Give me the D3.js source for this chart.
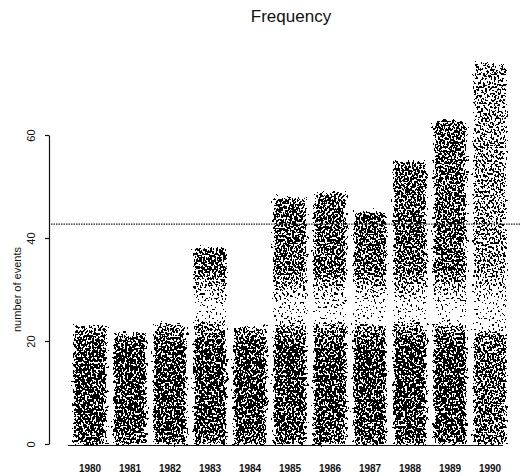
<!DOCTYPE html>
<html>
<head>
<meta charset="utf-8">
<script src="https://cdn.jsdelivr.net/npm/d3@7"></script>
<style>
  body { margin: 0; background: #fff; }
  svg { display: block; }
  text { font-family: "Liberation Sans", Arial, Helvetica, sans-serif; fill: #111; }
</style>
</head>
<body>
<svg id="chart" width="521" height="476"></svg>
<script>
let width = 521;
let height = 476;

let years = ["1980", "1981", "1982", "1983", "1984", "1985", "1986", "1987", "1988", "1989", "1990"];
// lower (dense) block and full height of each bar
let baseCounts = [23, 21.5, 23.3, 23.5, 22.7, 23.5, 23.5, 23.1, 23.5, 23.1, 22];
let totalCounts = [23, 21.5, 23.3, 38, 22.7, 47.8, 48.7, 45, 54.8, 62.9, 74];
let yTicks = [0, 20, 40, 60];
let refLevel = 42.7;

let svg = d3.select("#chart");

let x = d3.scaleBand().domain(years).range([70, 510]).paddingInner(0.2).paddingOuter(0.1);
let y = d3.scaleLinear().domain([0, 60]).range([444, 135]);

let defs = svg.append("defs");

// opacity ramps in data space, turned into stipple density by the filter
function ramp(id, stops) {
    let g = defs.append("linearGradient")
        .attr("id", id)
        .attr("gradientUnits", "userSpaceOnUse")
        .attr("x1", 0).attr("x2", 0)
        .attr("y1", y(0)).attr("y2", y(75));
    stops.forEach(s => {
        g.append("stop")
            .attr("offset", s[0] / 75)
            .attr("stop-color", "#000")
            .attr("stop-opacity", s[1]);
    });
}
ramp("lowRamp", [[0, 0.58], [3, 0.68], [18, 0.7], [21, 0.6], [23.5, 0.4]]);
ramp("highRamp", [[22, 0.05], [27, 0.1], [31, 0.42], [34, 0.62], [75, 0.58]]);

let f = defs.append("filter")
    .attr("id", "stipple")
    .attr("filterUnits", "userSpaceOnUse")
    .attr("x", 0).attr("y", 0).attr("width", width).attr("height", height)
    .attr("color-interpolation-filters", "sRGB");
// ragged edges, like a scanned print
f.append("feTurbulence")
    .attr("type", "fractalNoise")
    .attr("baseFrequency", 0.3)
    .attr("numOctaves", 2)
    .attr("seed", 3)
    .attr("result", "warp");
f.append("feDisplacementMap")
    .attr("in", "SourceGraphic").attr("in2", "warp")
    .attr("scale", 11)
    .attr("xChannelSelector", "R").attr("yChannelSelector", "G")
    .attr("result", "src");
f.append("feTurbulence")
    .attr("type", "fractalNoise")
    .attr("baseFrequency", "0.55 0.45")
    .attr("numOctaves", 1)
    .attr("seed", 7)
    .attr("result", "noise");
f.append("feColorMatrix")
    .attr("in", "noise")
    .attr("type", "matrix")
    .attr("values", "0 0 0 0 0  0 0 0 0 0  0 0 0 0 0  3 0 0 0 -1")
    .attr("result", "n");
f.append("feComposite")
    .attr("in", "src").attr("in2", "n")
    .attr("operator", "arithmetic")
    .attr("k1", 0).attr("k2", 1).attr("k3", -1).attr("k4", 0.49)
    .attr("result", "diff");
let ct = f.append("feComponentTransfer").attr("in", "diff");
ct.append("feFuncR").attr("type", "linear").attr("slope", 0).attr("intercept", 0);
ct.append("feFuncG").attr("type", "linear").attr("slope", 0).attr("intercept", 0);
ct.append("feFuncB").attr("type", "linear").attr("slope", 0).attr("intercept", 0);
ct.append("feFuncA").attr("type", "discrete").attr("tableValues", "0 1");

let data = years.map((yr, i) => ({ year: yr, base: baseCounts[i], total: totalCounts[i] }));

// the right edge of the scan came out paler
let fade = d => d.year === "1990" ? 0.7 : 1;

let bars = svg.append("g").attr("filter", "url(#stipple)");

bars.selectAll(".low").data(data).enter()
    .append("rect")
    .attr("class", "low")
    .attr("x", d => x(d.year))
    .attr("width", x.bandwidth())
    .attr("y", d => y(d.base))
    .attr("height", d => y(0) - y(d.base))
    .attr("fill", "url(#lowRamp)")
    .attr("fill-opacity", d => Math.min(1, fade(d) + 0.15));

bars.selectAll(".high").data(data.filter(d => d.total > d.base)).enter()
    .append("rect")
    .attr("class", "high")
    .attr("x", d => x(d.year))
    .attr("width", x.bandwidth())
    .attr("y", d => y(d.total))
    .attr("height", d => y(d.base) - y(d.total))
    .attr("fill", "url(#highRamp)")
    .attr("fill-opacity", fade);

// baseline under the bars
svg.append("line")
    .attr("x1", 68).attr("x2", 503)
    .attr("y1", y(0) + 1.5).attr("y2", y(0) + 1.5)
    .attr("stroke", "#111").attr("stroke-width", 1.2);

// reference level
svg.append("line")
    .attr("x1", 51).attr("x2", width)
    .attr("y1", y(refLevel)).attr("y2", y(refLevel))
    .attr("stroke", "#222").attr("stroke-width", 1.2)
    .attr("stroke-dasharray", "1.5,1");

// y axis
let yAxis = svg.append("g")
    .attr("transform", "translate(49,0)")
    .call(d3.axisLeft(y).tickValues(yTicks).tickSize(4).tickSizeOuter(0));
yAxis.select(".domain").attr("stroke", "#111").attr("stroke-width", 1.2);
yAxis.selectAll(".tick line").attr("stroke", "#111").attr("stroke-width", 1.2);
yAxis.selectAll(".tick text")
    .attr("transform", "rotate(-90)")
    .attr("x", 0).attr("y", -14).attr("dy", 0)
    .attr("text-anchor", "middle")
    .style("font-size", "11px")
    .style("font-family", "'Liberation Sans', Arial, sans-serif")
    .attr("fill", "#111");

svg.append("text")
    .attr("transform", "translate(21," + ((y(0) + y(60)) / 2) + ") rotate(-90)")
    .attr("text-anchor", "middle")
    .style("font-size", "11px")
    .text("number of events");

// x labels
svg.selectAll(".year").data(years).enter()
    .append("text")
    .attr("class", "year")
    .attr("x", d => x(d) + x.bandwidth() / 2)
    .attr("y", 472)
    .attr("text-anchor", "middle")
    .style("font-size", "10px")
    .style("font-weight", "bold")
    .text(d => d);

svg.append("text")
    .attr("x", 291).attr("y", 22)
    .attr("text-anchor", "middle")
    .style("font-size", "17px")
    .text("Frequency");
</script>
</body>
</html>
